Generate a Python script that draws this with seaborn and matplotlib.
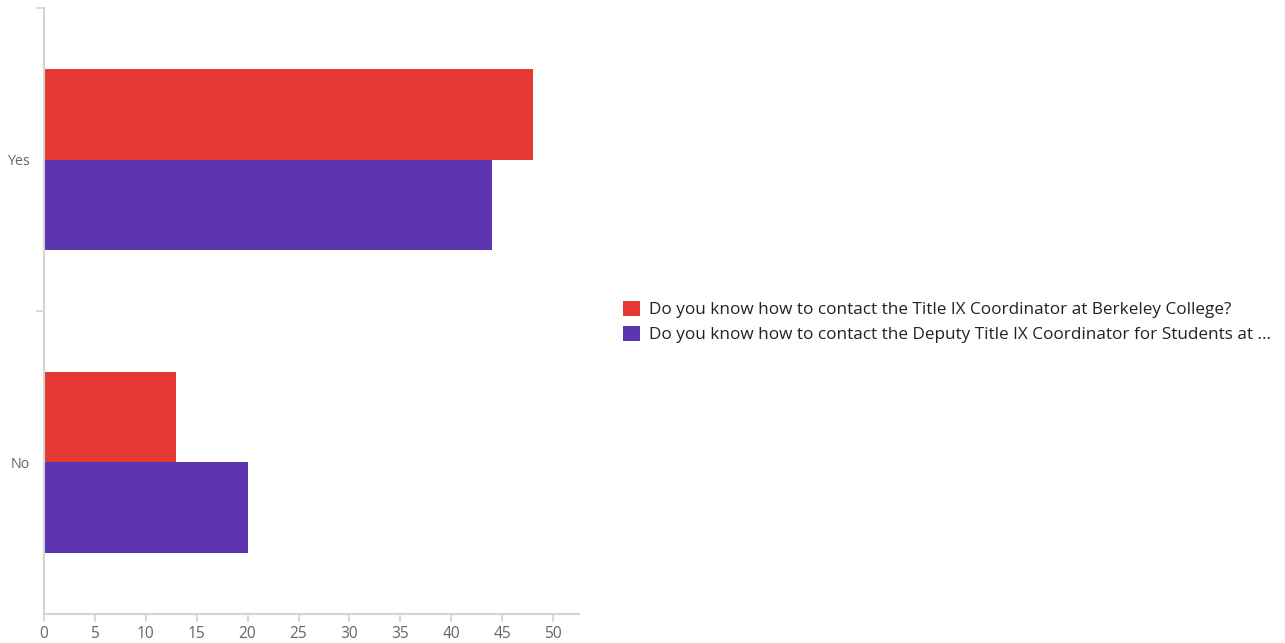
import matplotlib
matplotlib.use("Agg")
import matplotlib.pyplot as plt
import seaborn as sns
import pandas as pd
from matplotlib.patches import Patch

categories = ["Yes", "No"]
series_names = [
    "Do you know how to contact the Title IX Coordinator at Berkeley College?",
    "Do you know how to contact the Deputy Title IX Coordinator for Students at ...",
]
series1_values = [48, 13]
series2_values = [44, 20]
colors = ["#E53935", "#5E35B1"]
x_ticks = [0, 5, 10, 15, 20, 25, 30, 35, 40, 45, 50]

rows = []
for c, v in zip(categories, series1_values):
    rows.append({"cat": c, "val": v, "series": series_names[0]})
for c, v in zip(categories, series2_values):
    rows.append({"cat": c, "val": v, "series": series_names[1]})
df = pd.DataFrame(rows)

sns.set_style("white")
plt.rcParams['font.family'] = ['Open Sans', 'DejaVu Sans']

fig = plt.figure(figsize=(12.85, 6.43), dpi=100)
ax = fig.add_axes([44/1285, 1 - 614/643, (579-44)/1285, (614-8)/643])

sns.barplot(data=df, y="cat", x="val", hue="series", order=categories,
            hue_order=series_names, palette=colors, orient="h",
            width=0.6, saturation=1, ax=ax, legend=False)
for p in ax.patches:
    p.set_linewidth(0)

ax.set_xlim(0, 52.55)
ax.set_ylim(1.5, -0.5)
ax.set_xticks(x_ticks)
ax.set_xticklabels([str(t) for t in x_ticks])
ytick_locs = [-0.5, 0, 0.5, 1, 1.5]
ax.set_yticks(ytick_locs)
ax.set_yticklabels(["", "Yes", "", "No", ""])
ax.set_xlabel("")
ax.set_ylabel("")

for s in ["top", "right"]:
    ax.spines[s].set_visible(False)
for s in ["left", "bottom"]:
    ax.spines[s].set_color("#d4d4d4")
    ax.spines[s].set_linewidth(1.5)

ax.tick_params(axis="x", bottom=True, colors="#d4d4d4", labelcolor="#666666",
               labelsize=11.2, length=5.8, width=1.2, direction="out", pad=3)
ax.tick_params(axis="y", left=True, colors="#d4d4d4", labelcolor="#666666",
               labelsize=10.3, length=5.8, width=1.2, direction="out", pad=4.3)
for t, loc in zip(ax.yaxis.get_major_ticks(), ytick_locs):
    if loc in (0, 1, 1.5):
        t.tick1line.set_visible(False)

handles = [Patch(facecolor=c, edgecolor="none") for c in colors]
fig.legend(handles, series_names, loc="center left",
           bbox_to_anchor=(608/1285, 1 - 322/643), frameon=False,
           fontsize=12.3, handlelength=0.95, handleheight=0.95,
           handletextpad=0.55, labelspacing=0.45, labelcolor="#222222")

fig.savefig("out.png", dpi=100)
